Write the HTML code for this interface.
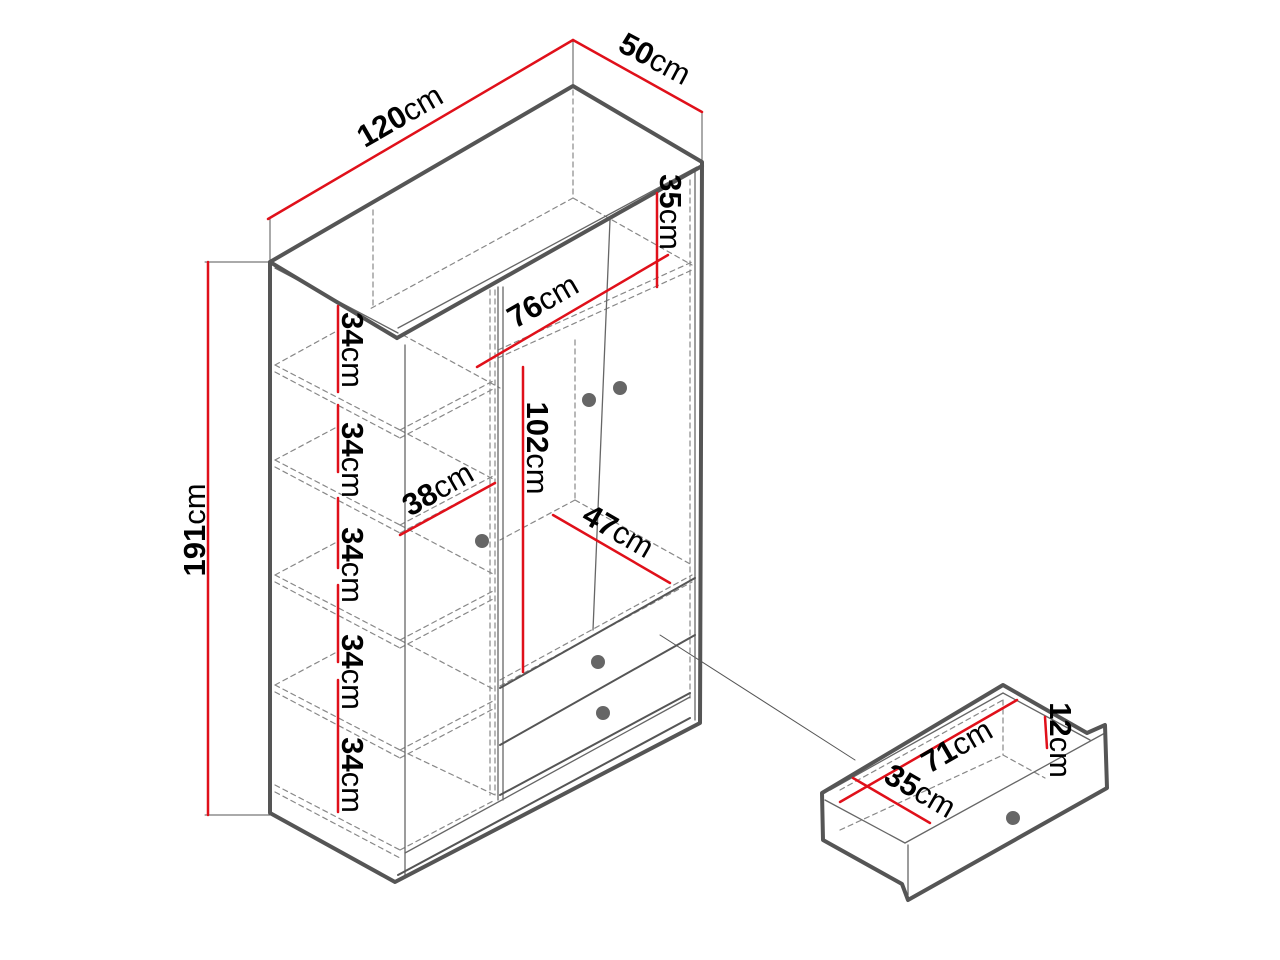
<!DOCTYPE html>
<html><head><meta charset="utf-8"><style>
html,body{margin:0;padding:0;background:#fff}
svg{display:block}
text{font-family:"Liberation Sans",sans-serif;font-size:31px;fill:#000}
.b{font-weight:bold}
</style></head><body>
<svg width="1280" height="960" viewBox="0 0 1280 960" xmlns="http://www.w3.org/2000/svg">
<g fill="none" stroke-linecap="round" stroke-linejoin="round">
<g stroke="#555" stroke-width="1">
<line x1="270" y1="218" x2="270" y2="262"/>
<line x1="573" y1="40" x2="573" y2="86"/>
<line x1="702" y1="112" x2="702" y2="162"/>
<line x1="205" y1="262" x2="270" y2="262"/>
<line x1="205" y1="815" x2="270" y2="815"/>
<line x1="660" y1="635" x2="855" y2="760"/>
</g>
<g stroke="#888" stroke-width="1.2" stroke-dasharray="5,4">
<line x1="573" y1="90" x2="573" y2="198"/>
<line x1="573" y1="198" x2="692" y2="265"/>
<line x1="573" y1="198" x2="368" y2="310"/>
<line x1="373" y1="210" x2="373" y2="305"/>
<line x1="575" y1="340" x2="575" y2="500"/>
<line x1="403" y1="335" x2="500" y2="388"/>
<line x1="490" y1="290" x2="490" y2="795"/>
<line x1="495" y1="290" x2="495" y2="795"/>
<line x1="690" y1="180" x2="690" y2="700"/>
<line x1="498" y1="350" x2="692" y2="262"/>
<line x1="498" y1="358" x2="692" y2="270"/>
<line x1="500" y1="680" x2="692" y2="575"/>
<line x1="500" y1="686" x2="692" y2="582"/>
<line x1="575" y1="500" x2="692" y2="565"/>
<line x1="575" y1="500" x2="500" y2="540"/>
<g>
<line x1="275" y1="365" x2="400" y2="430"/><line x1="275" y1="372" x2="400" y2="438"/>
<line x1="275" y1="365" x2="335" y2="332"/>
<line x1="400" y1="430" x2="495" y2="380"/><line x1="400" y1="438" x2="495" y2="388"/>
<line x1="275" y1="460" x2="400" y2="525"/><line x1="275" y1="467" x2="400" y2="533"/>
<line x1="275" y1="460" x2="335" y2="428"/>
<line x1="400" y1="525" x2="495" y2="475"/><line x1="400" y1="533" x2="495" y2="483"/>
<line x1="275" y1="575" x2="400" y2="640"/><line x1="275" y1="582" x2="400" y2="648"/>
<line x1="275" y1="575" x2="335" y2="543"/>
<line x1="400" y1="640" x2="495" y2="590"/><line x1="400" y1="648" x2="495" y2="598"/>
<line x1="275" y1="685" x2="400" y2="750"/><line x1="275" y1="692" x2="400" y2="758"/>
<line x1="275" y1="685" x2="335" y2="653"/>
<line x1="400" y1="750" x2="495" y2="700"/><line x1="400" y1="758" x2="495" y2="708"/>
<line x1="275" y1="785" x2="400" y2="850"/><line x1="275" y1="792" x2="400" y2="858"/>
<line x1="400" y1="850" x2="495" y2="800"/>
<line x1="400" y1="430" x2="495" y2="480"/>
<line x1="400" y1="525" x2="495" y2="575"/>
<line x1="400" y1="640" x2="495" y2="690"/>
<line x1="400" y1="750" x2="495" y2="795"/>
</g>
<line x1="840" y1="790" x2="1003" y2="700"/>
<line x1="1003" y1="700" x2="1003" y2="755"/>
<line x1="1003" y1="755" x2="1045" y2="778"/>
<line x1="840" y1="830" x2="1003" y2="755"/>
</g>
<g stroke="#666" stroke-width="1.3">
<line x1="275" y1="268" x2="398" y2="333"/>
<line x1="398" y1="328" x2="697" y2="167"/>
<line x1="405" y1="345" x2="405" y2="878"/>
<line x1="498" y1="287" x2="498" y2="800"/>
<line x1="503" y1="287" x2="503" y2="800"/>
<line x1="610" y1="220" x2="593" y2="630"/>
<line x1="695" y1="170" x2="695" y2="720"/>
<line x1="405" y1="853" x2="690" y2="697"/>
<line x1="825" y1="800" x2="905" y2="843"/>
<line x1="905" y1="843" x2="1105" y2="733"/>
<line x1="830" y1="790" x2="1003" y2="693"/>
<line x1="1003" y1="693" x2="1090" y2="740"/>
<line x1="908" y1="845" x2="908" y2="895"/>
</g>
<g stroke="#555" stroke-width="2">
<line x1="500" y1="688" x2="695" y2="578"/>
<line x1="500" y1="745" x2="695" y2="635"/>
<line x1="500" y1="795" x2="690" y2="693"/>
<line x1="398" y1="875" x2="690" y2="718"/>
</g>
<g stroke="#555" stroke-width="4">
<polygon points="270,262 573,86 702,162 700,723 395,882 270,813"/>
<line x1="270" y1="262" x2="397" y2="338"/>
<line x1="397" y1="338" x2="702" y2="166"/>
<polygon points="822,793 1003,685 1087,733 1105,725 1107,788 908,900 902,884 823,840"/>
</g>
<g stroke="#e0101a" stroke-width="2.5">
<line x1="268" y1="219" x2="573" y2="40"/>
<line x1="573" y1="40" x2="702" y2="112"/>
<line x1="208" y1="262" x2="208" y2="815"/>
<line x1="338" y1="306" x2="338" y2="392"/>
<line x1="338" y1="405" x2="338" y2="472"/>
<line x1="338" y1="498" x2="338" y2="568"/>
<line x1="338" y1="585" x2="338" y2="662"/>
<line x1="338" y1="680" x2="338" y2="812"/>
<line x1="657" y1="193" x2="657" y2="287"/>
<line x1="477" y1="367" x2="668" y2="255"/>
<line x1="523" y1="367" x2="523" y2="672"/>
<line x1="400" y1="535" x2="495" y2="483"/>
<line x1="553" y1="515" x2="670" y2="583"/>
<line x1="840" y1="802" x2="1017" y2="700"/>
<line x1="853" y1="778" x2="930" y2="823"/>
<line x1="1045" y1="717" x2="1047" y2="748"/>
</g>
</g>
<g fill="#666">
<circle cx="482" cy="541" r="7"/>
<circle cx="589" cy="400" r="7"/>
<circle cx="620" cy="388" r="7"/>
<circle cx="598" cy="662" r="7"/>
<circle cx="603" cy="713" r="7"/>
<circle cx="1013" cy="818" r="7"/>
</g>
<text transform="translate(405,125) rotate(-30)" text-anchor="middle"><tspan class="b">120</tspan>cm</text>
<text transform="translate(650,68) rotate(28)" text-anchor="middle"><tspan class="b">50</tspan>cm</text>
<text transform="translate(205,530) rotate(-90)" text-anchor="middle"><tspan class="b">191</tspan>cm</text>
<text transform="translate(342,350) rotate(90)" text-anchor="middle"><tspan class="b">34</tspan>cm</text>
<text transform="translate(342,460) rotate(90)" text-anchor="middle"><tspan class="b">34</tspan>cm</text>
<text transform="translate(342,565) rotate(90)" text-anchor="middle"><tspan class="b">34</tspan>cm</text>
<text transform="translate(342,672) rotate(90)" text-anchor="middle"><tspan class="b">34</tspan>cm</text>
<text transform="translate(342,775) rotate(90)" text-anchor="middle"><tspan class="b">34</tspan>cm</text>
<text transform="translate(660,212) rotate(90)" text-anchor="middle"><tspan class="b">35</tspan>cm</text>
<text transform="translate(548,310) rotate(-30)" text-anchor="middle"><tspan class="b">76</tspan>cm</text>
<text transform="translate(527,448) rotate(90)" text-anchor="middle"><tspan class="b">102</tspan>cm</text>
<text transform="translate(443,498) rotate(-30)" text-anchor="middle"><tspan class="b">38</tspan>cm</text>
<text transform="translate(613,540) rotate(30)" text-anchor="middle"><tspan class="b">47</tspan>cm</text>
<text transform="translate(962,755) rotate(-30)" text-anchor="middle"><tspan class="b">71</tspan>cm</text>
<text transform="translate(915,800) rotate(30)" text-anchor="middle"><tspan class="b">35</tspan>cm</text>
<text transform="translate(1050,740) rotate(90)" text-anchor="middle"><tspan class="b">12</tspan>cm</text>
</svg>
</body></html>
